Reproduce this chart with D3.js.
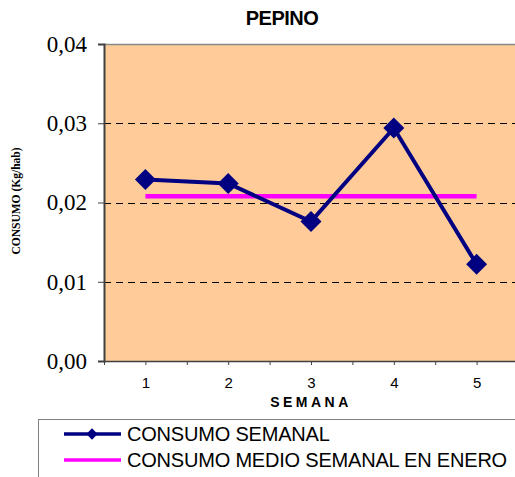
<!DOCTYPE html>
<html>
<head>
<meta charset="utf-8">
<script src="https://cdn.jsdelivr.net/npm/d3@7"></script>
<style>
  html, body { margin: 0; padding: 0; background: #fff; }
  svg { display: block; }
</style>
</head>
<body>
<div id="main"></div>
<script>

// datas

const title = 'PEPINO';
const weeks = [1, 2, 3, 4, 5];
const consumoSemanal = [0.0229, 0.0224, 0.0176, 0.0294, 0.0122];
const consumoMedioEnero = [0.0208, 0.0208, 0.0208, 0.0208, 0.0208];
const yTicks = [0, 0.01, 0.02, 0.03, 0.04];
const seriesNames = ['CONSUMO SEMANAL', 'CONSUMO MEDIO SEMANAL EN ENERO'];
const xTitle = 'SEMANA';
const yTitle = 'CONSUMO (Kg/hab)';

const w = 515;
const h = 477;

const plot = { left: 104, right: 518, top: 44, bottom: 361 };

const sans = '"Liberation Sans", Arial, sans-serif';
const serif = '"Liberation Serif", "Times New Roman", serif';

// svg

const svg = d3.select('#main').append('svg').attr('width', w).attr('height', h);

// scales

const x = d3.scaleLinear().domain([0.5, 5.5]).range([plot.left, plot.right]);
const y = d3.scaleLinear().domain([0, 0.04]).range([plot.bottom, plot.top]);

// plot area

svg.append('rect')
    .attr('x', plot.left)
    .attr('y', plot.top)
    .attr('width', plot.right - plot.left)
    .attr('height', plot.bottom - plot.top)
    .attr('fill', '#FFCC99');

svg.append('line')
    .attr('x1', plot.left).attr('x2', plot.right)
    .attr('y1', plot.top + 0.5).attr('y2', plot.top + 0.5)
    .attr('stroke', '#888').attr('stroke-width', 1.5);

// grid

svg.append('g')
    .selectAll('line')
    .data(yTicks.filter(d => d > 0 && d < 0.04))
    .enter()
    .append('line')
    .attr('x1', plot.left).attr('x2', plot.right)
    .attr('y1', d => Math.round(y(d)) + 0.5)
    .attr('y2', d => Math.round(y(d)) + 0.5)
    .attr('stroke', '#000')
    .attr('stroke-dasharray', '7,5');

// axes

const fmt = d => d3.format('.2f')(d).replace('.', ',');

const yAxis = d3.axisLeft(y).tickValues(yTicks).tickSize(6).tickPadding(11).tickFormat(fmt);
const gy = svg.append('g').attr('transform', `translate(${plot.left},0)`).call(yAxis);
gy.attr('font-family', null);
gy.select('.domain').attr('stroke', '#404040').attr('stroke-width', 2);
gy.selectAll('.tick line').attr('stroke', '#404040');
gy.selectAll('.tick text').style('font-family', serif).style('font-size', '23px').attr('fill', '#000');

const xTickVals = d3.range(0.5, 5.6, 0.5);
const xAxis = d3.axisBottom(x).tickValues(xTickVals).tickSize(4).tickPadding(12)
    .tickSizeOuter(0)
    .tickFormat(d => Number.isInteger(d) ? d : '');
const gx = svg.append('g').attr('transform', `translate(0,${plot.bottom})`).call(xAxis);
gx.select('.domain').attr('stroke', '#404040').attr('stroke-width', 1.5);
gx.selectAll('.tick line').attr('stroke', '#404040');
gx.selectAll('.tick text').style('font-family', sans).style('font-size', '15px').attr('fill', '#000');

// axis titles

svg.append('text')
    .attr('x', 311).attr('y', 407)
    .attr('text-anchor', 'middle')
    .style('font-family', sans).style('font-size', '14px').attr('font-weight', 'bold')
    .attr('letter-spacing', 3.5)
    .text(xTitle);

svg.append('text')
    .attr('transform', 'translate(20,201) rotate(-90)')
    .attr('text-anchor', 'middle')
    .style('font-family', serif).style('font-size', '11.5px').attr('font-weight', 'bold')
    .text(yTitle);

// title

svg.append('text')
    .attr('x', 282).attr('y', 25)
    .attr('text-anchor', 'middle')
    .style('font-family', sans).style('font-size', '20px').attr('font-weight', 'bold')
    .attr('letter-spacing', -0.5)
    .text(title);

// series

const line = d3.line().x((d, i) => x(weeks[i])).y(d => y(d));

svg.append('path')
    .datum(consumoMedioEnero)
    .attr('d', line)
    .attr('fill', 'none')
    .attr('stroke', '#FF00FF')
    .attr('stroke-width', 4.5);

svg.append('path')
    .datum(consumoSemanal)
    .attr('d', line)
    .attr('fill', 'none')
    .attr('stroke', '#000080')
    .attr('stroke-width', 4);

const diamond = d3.symbol().type(d3.symbolSquare).size(220);

svg.append('g')
    .selectAll('path')
    .data(consumoSemanal)
    .enter()
    .append('path')
    .attr('d', diamond)
    .attr('transform', (d, i) => `translate(${x(weeks[i])},${y(d)}) rotate(45)`)
    .attr('fill', '#000080');

// legend

const legend = svg.append('g').attr('id', 'legend');

legend.append('rect')
    .attr('x', 38.5).attr('y', 419.5)
    .attr('width', 500).attr('height', 100)
    .attr('fill', '#fff')
    .attr('stroke', '#808080');

const lg = legend.selectAll('g.item')
    .data(seriesNames)
    .enter()
    .append('g')
    .attr('class', 'item')
    .attr('transform', (d, i) => `translate(0,${434 + i * 26})`);

lg.append('line')
    .attr('x1', 64).attr('x2', 121)
    .attr('stroke', (d, i) => i === 0 ? '#000080' : '#FF00FF')
    .attr('stroke-width', 3.5);

lg.filter((d, i) => i === 0)
    .append('path')
    .attr('d', d3.symbol().type(d3.symbolSquare).size(64))
    .attr('transform', 'translate(92,0) rotate(45)')
    .attr('fill', '#000080');

lg.append('text')
    .attr('x', 127).attr('y', 7)
    .style('font-family', sans).style('font-size', '20px')
    .attr('letter-spacing', -0.2)
    .text(d => d);

</script>
</body>
</html>
